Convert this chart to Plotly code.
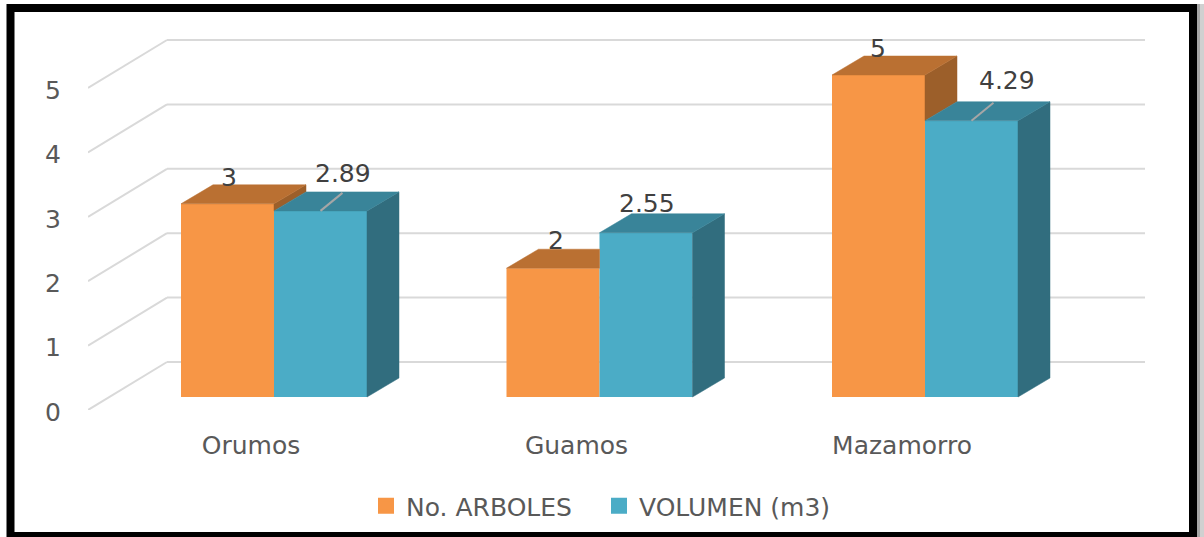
#!/usr/bin/env python3
# -*- coding: utf-8 -*-
"""Excel style 3D column chart: No. ARBOLES and VOLUMEN (m3) per species."""

import plotly.graph_objects as go

# Data
CATEGORIES = ["Orumos", "Guamos", "Mazamorro"]
ARBOLES = [3, 2, 5]
VOLUMEN = [2.89, 2.55, 4.29]
ARBOLES_LABELS = ["3", "2", "5"]
VOLUMEN_LABELS = ["2.89", "2.55", "4.29"]
Y_TICKS = [0, 1, 2, 3, 4, 5]

# Colors
ORANGE = ("#F79646", "#BA7032", "#9C5F2A")
BLUE = ("#4BACC6", "#398499", "#316D7E")
GRID = "#D9D9D9"
TEXT = "#595959"
FONT = "DejaVu Sans"
FONT_SIZE = 25

# Figure geometry in pixels
WIDTH, HEIGHT = 1204, 537
LEFT, RIGHT, TOP, BOTTOM = 88, 1145, 25, 410
PX_PER_Y = 64.4
PX_PER_X = 325.5
X0_PX = 251  # pixel of the first category tick

X_RANGE = [(LEFT - X0_PX) / PX_PER_X, (RIGHT - X0_PX) / PX_PER_X]
Y_RANGE = [0, (BOTTOM - TOP) / PX_PER_Y]

# 3D look, all in axis units
BAR_W = 93 / PX_PER_X
BAR_SHIFT = 23 / PX_PER_X
BASE = 13 / PX_PER_Y
DEPTH_X = 32 / PX_PER_X
DEPTH_Y = 19 / PX_PER_Y
WALL_X = 79 / PX_PER_X
WALL_Y = 48 / PX_PER_Y
WALL_LEFT = X_RANGE[0] + WALL_X


def paper_x(px):
    return (px - LEFT) / (RIGHT - LEFT)


def paper_y(px):
    return (BOTTOM - px) / (BOTTOM - TOP)


def face(xs, ys, color):
    """Closed polygon used for the side and top faces of a column."""
    return go.Scatter(
        x=xs + xs[:1], y=ys + ys[:1], mode="lines", fill="toself", fillcolor=color,
        line=dict(color=color, width=0.5), showlegend=False, hoverinfo="skip",
    )


def column_faces(x0, value, other, colors, left_of_other):
    """Top and side faces of one column, cut where the neighbour hides them."""
    x1 = x0 + BAR_W
    top = BASE + value
    traces = []
    if left_of_other:
        other_top = BASE + other
        if value > other:
            traces.append(face([x1, x1 + DEPTH_X, x1 + DEPTH_X, x1],
                               [top, top + DEPTH_Y, other_top + DEPTH_Y, other_top], colors[2]))
            traces.append(face([x0, x0 + DEPTH_X, x1 + DEPTH_X, x1],
                               [top, top + DEPTH_Y, top + DEPTH_Y, top], colors[1]))
        else:
            traces.append(face([x0, x0 + DEPTH_X, x1, x1],
                               [top, top + DEPTH_Y, top + DEPTH_Y, top], colors[1]))
    else:
        traces.append(face([x1, x1 + DEPTH_X, x1 + DEPTH_X, x1],
                           [BASE, BASE + DEPTH_Y, top + DEPTH_Y, top], colors[2]))
        traces.append(face([x0, x0 + DEPTH_X, x1 + DEPTH_X, x1],
                           [top, top + DEPTH_Y, top + DEPTH_Y, top], colors[1]))
    return traces


def create_figure():
    fig = go.Figure()
    positions = list(range(len(CATEGORIES)))
    x_orange = [p + BAR_SHIFT - BAR_W / 2 for p in positions]
    x_blue = [p + BAR_SHIFT + BAR_W / 2 for p in positions]

    fig.add_trace(go.Bar(x=x_orange, y=ARBOLES, base=BASE, width=BAR_W, showlegend=False,
                         name="No. ARBOLES", marker=dict(color=ORANGE[0], line_width=0)))
    fig.add_trace(go.Bar(x=x_blue, y=VOLUMEN, base=BASE, width=BAR_W, showlegend=False,
                         name="VOLUMEN (m3)", marker=dict(color=BLUE[0], line_width=0)))

    # Empty bars only for the legend, the outline makes the swatch bigger
    for name, colors in (("No. ARBOLES", ORANGE), ("VOLUMEN (m3)", BLUE)):
        fig.add_trace(go.Bar(x=[None], y=[None], name=name,
                             marker=dict(color=colors[0], line=dict(color=colors[0], width=4))))

    for i in positions:
        for tr in column_faces(x_orange[i] - BAR_W / 2, ARBOLES[i], VOLUMEN[i], ORANGE, True):
            fig.add_trace(tr)
    for i in positions:
        for tr in column_faces(x_blue[i] - BAR_W / 2, VOLUMEN[i], ARBOLES[i], BLUE, False):
            fig.add_trace(tr)

    # Leader lines of the moved labels
    for i in (0, 2):
        fig.add_trace(go.Scatter(
            x=[x_blue[i], x_blue[i] + 22 / PX_PER_X],
            y=[BASE + VOLUMEN[i], BASE + VOLUMEN[i] + 18 / PX_PER_Y],
            mode="lines", line=dict(color="#A6A6A6", width=2),
            showlegend=False, hoverinfo="skip",
        ))

    # Back wall and side wall gridlines
    shapes = []
    for t in Y_TICKS:
        shapes.append(dict(type="line", layer="below", xref="x", yref="y",
                           x0=X_RANGE[0], y0=t, x1=WALL_LEFT, y1=t + WALL_Y,
                           line=dict(color=GRID, width=2)))
        shapes.append(dict(type="line", layer="below", xref="x", yref="y",
                           x0=WALL_LEFT, y0=t + WALL_Y, x1=X_RANGE[1], y1=t + WALL_Y,
                           line=dict(color=GRID, width=2)))
    # Black frame of the picture and its shadow on the right
    shapes.append(dict(type="rect", xref="paper", yref="paper",
                       x0=paper_x(10.5), x1=paper_x(1193), y0=paper_y(536), y1=paper_y(8),
                       line=dict(color="black", width=8)))
    for x0, x1, color in ((1197, 1200, "#A6A6A6"), (1200, 1204, "#D0D0D0")):
        shapes.append(dict(type="rect", xref="paper", yref="paper", line_width=0,
                           x0=paper_x(x0), x1=paper_x(x1), y0=paper_y(537), y1=paper_y(4),
                           fillcolor=color))

    # Data labels, placed as in the original
    annotations = []
    label_sets = [
        (x_orange, ARBOLES, ARBOLES_LABELS, [(1, 26), (3, 28), (-1, 27)]),
        (x_blue, VOLUMEN, VOLUMEN_LABELS, [(22, 37), (1, 29), (35, 40)]),
    ]
    for xs, values, labels, offsets in label_sets:
        for x, v, text, (ox, oy) in zip(xs, values, labels, offsets):
            annotations.append(dict(
                x=x, y=BASE + v, text=text, showarrow=False, xshift=ox, yshift=oy,
                font=dict(family=FONT, size=FONT_SIZE, color="#404040"),
            ))

    fig.update_layout(
        width=WIDTH, height=HEIGHT, autosize=False,
        margin=dict(l=LEFT, r=WIDTH - RIGHT, t=TOP, b=HEIGHT - BOTTOM, pad=0),
        paper_bgcolor="white", plot_bgcolor="rgba(0,0,0,0)",
        barmode="overlay", shapes=shapes, annotations=annotations,
        font=dict(family=FONT, color=TEXT),
        xaxis=dict(range=X_RANGE, tickmode="array", tickvals=positions, ticktext=CATEGORIES,
                   showgrid=False, zeroline=False, showline=False,
                   ticks="outside", ticklen=13, tickcolor="rgba(0,0,0,0)",
                   tickfont=dict(size=FONT_SIZE, color=TEXT, family=FONT)),
        yaxis=dict(range=Y_RANGE, tickmode="array", tickvals=Y_TICKS,
                   showgrid=False, zeroline=False, showline=False,
                   ticks="outside", ticklen=21, tickcolor="rgba(0,0,0,0)",
                   ticklabelshift=2,
                   tickfont=dict(size=FONT_SIZE, color=TEXT, family=FONT)),
        # container refs, a legend in paper coords would push the bottom margin
        legend=dict(orientation="h", xref="container", yref="container",
                    xanchor="left", x=366 / WIDTH,
                    yanchor="middle", y=(HEIGHT - 506) / HEIGHT,
                    entrywidth=188, entrywidthmode="pixels",
                    font=dict(size=FONT_SIZE, color=TEXT, family=FONT),
                    traceorder="normal", bgcolor="rgba(0,0,0,0)"),
        showlegend=True,
    )
    return fig


fig = create_figure()
# Page margin off so the picture fills the window, no modebar on hover
fig.write_html("out.html", config=dict(displayModeBar=False),
               post_script="document.body.style.margin = '0';")
